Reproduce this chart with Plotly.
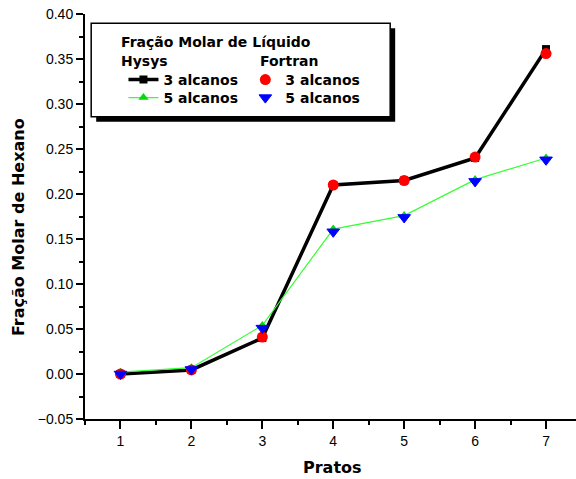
import plotly.graph_objects as go

pratos = [1, 2, 3, 4, 5, 6, 7]
hysys_3 = [0.000, 0.0045, 0.040, 0.210, 0.215, 0.240, 0.361]
hysys_5 = [0.002, 0.0070, 0.054, 0.161, 0.176, 0.216, 0.240]
fortran_3 = [0.000, 0.0045, 0.041, 0.210, 0.215, 0.241, 0.356]
fortran_5 = [0.000, 0.0050, 0.051, 0.158, 0.174, 0.214, 0.238]

W, H = 576, 479
L, R, T, B = 84.5, 0, 14, 60
PW = W - L - R
PH = H - T - B


def px(x):
    return (x - L) / PW


def py(y):
    return (H - B - y) / PH


BOLD = "DejaVu Sans"
TICKF = "Arial, Liberation Sans, sans-serif"

fig = go.Figure()
fig.add_trace(go.Scatter(
    x=pratos, y=hysys_3, mode="lines+markers", name="<b>3 alcanos</b>",
    line=dict(color="black", width=3.5),
    marker=dict(symbol="square", size=8, color="black"),
    legend="legend"))
fig.add_trace(go.Scatter(
    x=pratos, y=hysys_5, mode="lines+markers", name="<b>5 alcanos</b>",
    line=dict(color="#33ff33", width=1.2),
    marker=dict(symbol="triangle-up", size=9, color="#00dd00"),
    legend="legend2"))
fig.add_trace(go.Scatter(
    x=pratos, y=fortran_3, mode="markers", name="<b>3 alcanos</b>",
    marker=dict(symbol="circle", size=11, color="#ff0000"),
    legend="legend3"))
fig.add_trace(go.Scatter(
    x=pratos, y=fortran_5, mode="markers", name="<b>5 alcanos</b>",
    marker=dict(symbol="triangle-down", size=11, color="#0000ff",
                line=dict(color="#0000ff", width=1)),
    legend="legend4"))

xr = [0.5, 0.5 + PW / 71.0]
yr = [-0.05, 0.40]


def leg(xp, yp):
    return dict(x=px(xp), y=py(yp), xanchor="left", yanchor="top",
                bgcolor="rgba(0,0,0,0)", borderwidth=0,
                font=dict(family=BOLD, size=14, color="black"),
                tracegroupgap=0, itemwidth=30)


fig.update_layout(
    width=W, height=H,
    margin=dict(l=L, r=R, t=T, b=B, autoexpand=False),
    paper_bgcolor="white", plot_bgcolor="white",
    xaxis=dict(range=xr, tickvals=pratos, ticks="outside", ticklen=8,
               tickwidth=1.5, tickcolor="black", showline=True,
               linecolor="black", linewidth=2, showgrid=False, zeroline=False,
               tickfont=dict(family=TICKF, size=14, color="black"),
               minor=dict(dtick=0.5, tick0=0.5, ticks="outside", ticklen=4,
                          tickwidth=1.5, tickcolor="black", showgrid=False)),
    xaxis2=dict(range=xr, overlaying="x", side="top", anchor="y",
                dtick=0.5, tick0=0.5, ticks="inside", ticklen=7, tickwidth=1.5,
                tickcolor="black", showline=True, linecolor="black",
                linewidth=2, showticklabels=False, showgrid=False,
                zeroline=False),
    yaxis=dict(range=yr, dtick=0.05, tick0=0, tickformat=".2f",
               ticks="outside", ticklen=7, tickwidth=1.5, tickcolor="black",
               showline=True, linecolor="black", linewidth=2, showgrid=False,
               zeroline=False,
               tickfont=dict(family=TICKF, size=14, color="black"),
               minor=dict(dtick=0.025, tick0=0, ticks="outside", ticklen=4,
                          tickwidth=1.5, tickcolor="black", showgrid=False)),
    yaxis2=dict(range=yr, overlaying="y", side="right", anchor="x",
                dtick=0.05, tick0=0, ticks="inside", ticklen=4, tickwidth=1.5,
                tickcolor="black", showline=False, showticklabels=False,
                showgrid=False, zeroline=False),
    legend=leg(123, 64),
    legend2=leg(123, 82),
    legend3=leg(245, 64),
    legend4=leg(245, 82),
    showlegend=True,
)

# legend box with shadow
fig.add_shape(type="rect", xref="paper", yref="paper",
              x0=px(95.7), x1=px(395), y0=py(28.3), y1=py(121.7),
              fillcolor="black", line=dict(width=0), layer="above")
fig.add_shape(type="rect", xref="paper", yref="paper",
              x0=px(90.7), x1=px(390), y0=py(23.3), y1=py(116.7),
              fillcolor="white", line=dict(color="black", width=1.5),
              layer="above")

hdr = dict(xref="paper", yref="paper", showarrow=False, xanchor="left",
           yanchor="middle", font=dict(family=BOLD, size=14, color="black"))
fig.add_annotation(text="<b>Fração Molar de Líquido</b>", x=px(119), y=py(42), **hdr)
fig.add_annotation(text="<b>Hysys</b>", x=px(119), y=py(61), **hdr)
fig.add_annotation(text="<b>Fortran</b>", x=px(258), y=py(61), **hdr)

fig.add_annotation(text="<b>Fração Molar de Hexano</b>", xref="paper", yref="paper",
                   x=px(17.5), y=py(227), textangle=-90, showarrow=False,
                   xanchor="center", yanchor="middle",
                   font=dict(family=BOLD, size=16, color="black"))
fig.add_annotation(text="<b>Pratos</b>", xref="paper", yref="paper",
                   x=px(332), y=py(467), showarrow=False,
                   xanchor="center", yanchor="middle",
                   font=dict(family=BOLD, size=16, color="black"))

fig.write_html("out.html")
